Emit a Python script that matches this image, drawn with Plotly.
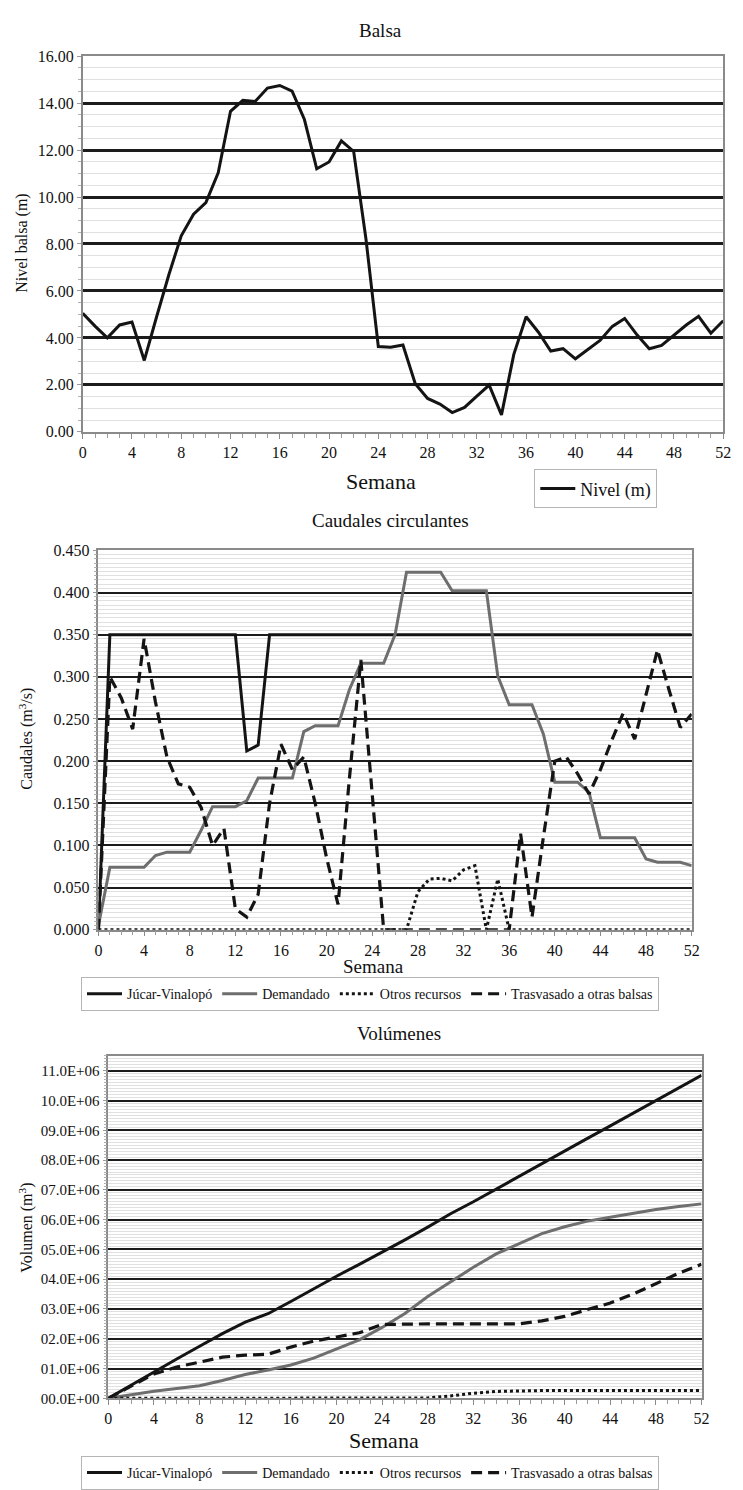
import plotly.graph_objects as go

# ---------------- data ----------------
weeks = list(range(53))

nivel = [5.05, 4.5, 4.0, 4.55, 4.68, 3.04, 4.9, 6.7, 8.35, 9.27,
         9.76, 11.03, 13.65, 14.12, 14.07, 14.64, 14.75, 14.51, 13.3, 11.2,
         11.49, 12.39, 11.94, 8.2, 3.63, 3.6, 3.7, 2.05, 1.42, 1.18,
         0.82, 1.04, 1.52, 1.99, 0.72, 3.3, 4.9, 4.24, 3.44, 3.54,
         3.11, 3.5, 3.89, 4.49, 4.83, 4.13, 3.54, 3.68, 4.1, 4.55,
         4.92, 4.2, 4.73]

q_jucar = [0.0, 0.35, 0.35, 0.35, 0.35, 0.35, 0.35, 0.35, 0.35, 0.35,
           0.35, 0.35, 0.35, 0.212, 0.219, 0.35, 0.35, 0.35, 0.35, 0.35,
           0.35, 0.35, 0.35, 0.35, 0.35, 0.35, 0.35, 0.35, 0.35, 0.35,
           0.35, 0.35, 0.35, 0.35, 0.35, 0.35, 0.35, 0.35, 0.35, 0.35,
           0.35, 0.35, 0.35, 0.35, 0.35, 0.35, 0.35, 0.35, 0.35, 0.35,
           0.35, 0.35, 0.35]
q_demandado = [0.005, 0.074, 0.074, 0.074, 0.074, 0.088, 0.092, 0.092, 0.092, 0.118,
               0.146, 0.146, 0.146, 0.153, 0.18, 0.18, 0.18, 0.18, 0.235, 0.242,
               0.242, 0.242, 0.285, 0.316, 0.316, 0.316, 0.35, 0.424, 0.424, 0.424,
               0.424, 0.402, 0.402, 0.402, 0.402, 0.301, 0.267, 0.267, 0.267, 0.232,
               0.175, 0.175, 0.175, 0.163, 0.109, 0.109, 0.109, 0.109, 0.084, 0.080,
               0.080, 0.080, 0.076]
q_otros = [0, 0, 0, 0, 0, 0, 0, 0, 0, 0,
           0, 0, 0, 0, 0, 0, 0, 0, 0, 0,
           0, 0, 0, 0, 0, 0, 0, 0, 0.045, 0.06,
           0.061, 0.058, 0.071, 0.076, 0.0, 0.06, 0.0, 0, 0, 0,
           0, 0, 0, 0, 0, 0, 0, 0, 0, 0,
           0, 0, 0]
q_trasvasado = [0.0, 0.30, 0.275, 0.238, 0.345, 0.27, 0.205, 0.173, 0.169, 0.145,
                0.10, 0.12, 0.025, 0.015, 0.042, 0.15, 0.22, 0.19, 0.205, 0.15,
                0.085, 0.03, 0.18, 0.32, 0.16, 0.0, 0.0, 0.0, 0.0, 0.0,
                0.0, 0.0, 0.0, 0.0, 0.0, 0.0, 0.0, 0.114, 0.015, 0.11,
                0.2, 0.205, 0.185, 0.161, 0.19, 0.225, 0.257, 0.226, 0.28, 0.332,
                0.285, 0.24, 0.256]

weeks_vol = [0, 2, 4, 6, 8, 10, 12, 14, 16, 18, 20, 22, 24, 26,
             28, 30, 32, 34, 36, 38, 40, 42, 44, 46, 48, 50, 52]
# volumes in millions of m3
v_jucar = [0, 0.44, 0.9, 1.32, 1.75, 2.17, 2.56, 2.84, 3.25, 3.68, 4.1, 4.5, 4.9, 5.32,
           5.75, 6.2, 6.6, 7.03, 7.45, 7.88, 8.3, 8.73, 9.15, 9.58, 10.0, 10.42, 10.85]
v_demandado = [0, 0.12, 0.24, 0.33, 0.42, 0.6, 0.8, 0.95, 1.12, 1.35, 1.65, 1.96, 2.38, 2.85,
               3.42, 3.9, 4.4, 4.85, 5.2, 5.53, 5.76, 5.95, 6.08, 6.21, 6.34, 6.44, 6.53]
v_otros = [0, 0, 0, 0, 0, 0, 0, 0, 0, 0, 0, 0, 0, 0,
           0.01, 0.08, 0.17, 0.23, 0.25, 0.26, 0.26, 0.26, 0.26, 0.26, 0.26, 0.26, 0.26]
v_trasvasado = [0, 0.4, 0.82, 1.05, 1.22, 1.38, 1.45, 1.48, 1.72, 1.92, 2.06, 2.2, 2.48, 2.5,
                2.5, 2.5, 2.5, 2.5, 2.5, 2.6, 2.75, 2.98, 3.2, 3.5, 3.85, 4.2, 4.5]

vol_tickvals = [0, 1, 2, 3, 4, 5, 6, 7, 8, 9, 10, 11]
vol_ticktext = ["00.0E+00", "01.0E+06", "02.0E+06", "03.0E+06", "04.0E+06", "05.0E+06",
                "06.0E+06", "07.0E+06", "08.0E+06", "09.0E+06", "10.0E+06", "11.0E+06"]

names = ["Júcar-Vinalopó", "Demandado", "Otros recursos", "Trasvasado a otras balsas"]

# ---------------- layout helpers ----------------
W, H = 743, 1490
FONT = "Liberation Serif"


def px_x(a, b):
    return [a / W, b / W]


def px_y(top, bottom):
    return [1 - bottom / H, 1 - top / H]


BLACK = "#141414"
GRAY = "#6e6e6e"
DASH = "11px,6px"
DOT = "3px,3px"

fig = go.Figure()

# Chart 1
fig.add_trace(go.Scatter(x=weeks, y=nivel, mode="lines", name="Nivel (m)",
                         line=dict(color=BLACK, width=3), xaxis="x", yaxis="y",
                         legend="legend"))

styles = [dict(color=BLACK, width=3),
          dict(color=GRAY, width=3),
          dict(color=BLACK, width=3, dash=DOT),
          dict(color=BLACK, width=3.2, dash=DASH)]

for nm, ys, st in zip(names, [q_jucar, q_demandado, q_otros, q_trasvasado], styles):
    fig.add_trace(go.Scatter(x=weeks, y=ys, mode="lines", name=nm, line=st,
                             xaxis="x2", yaxis="y2", legend="legend2"))

for nm, ys, st in zip(names, [v_jucar, v_demandado, v_otros, v_trasvasado], styles):
    fig.add_trace(go.Scatter(x=weeks_vol, y=ys, mode="lines", name=nm, line=st,
                             xaxis="x3", yaxis="y3", legend="legend3"))

tickfont = dict(family=FONT, size=16, color="#111")


def xaxis(domain, anchor):
    return dict(domain=domain, anchor=anchor, range=[0, 52], tick0=0, dtick=4,
                showgrid=False, zeroline=False, showline=True, mirror=True,
                linecolor="#8a8a8a", linewidth=1.5, ticks="outside", ticklen=5,
                tickcolor="#8a8a8a", tickfont=tickfont,
                minor=dict(dtick=1, ticks="outside", ticklen=4, tickcolor="#9a9a9a",
                           showgrid=False))


def yaxis(domain, anchor, rng, dtick, minor_dtick, gw, fmt=None, font=tickfont):
    d = dict(domain=domain, anchor=anchor, range=rng, dtick=dtick, tick0=0,
             showgrid=True, gridcolor="#1c1c1c", gridwidth=gw, zeroline=False,
             showline=True, mirror=True, linecolor="#8a8a8a", linewidth=1.5,
             ticks="outside", ticklen=4, tickcolor="#9a9a9a", tickfont=font,
             minor=dict(dtick=minor_dtick, showgrid=True, gridcolor="#e0e0e0",
                        gridwidth=1, ticks="outside", ticklen=3, tickcolor="#b0b0b0"))
    if fmt:
        d["tickformat"] = fmt
    return d


y3 = yaxis(px_y(1060.7, 1407.3), "x3", [0, 11.5], 1, 0.1, 2.4,
           font=dict(family=FONT, size=15, color="#111"))
y3.update(tickmode="array", tickvals=vol_tickvals, ticktext=vol_ticktext)
y3["minor"].update(tick0=0)

leg_common = dict(bordercolor="#b5b5b5", borderwidth=1, bgcolor="white", itemwidth=35)

fig.update_layout(
    width=W, height=H, margin=dict(l=0, r=0, t=0, b=0),
    paper_bgcolor="white", plot_bgcolor="white",
    font=dict(family=FONT, color="#111"),
    xaxis=xaxis(px_x(80, 731), "y"),
    yaxis=yaxis(px_y(48.7, 429), "x", [0, 16], 2, 0.5, 2.8, fmt=".2f"),
    xaxis2=xaxis(px_x(96, 699), "y2"),
    yaxis2=yaxis(px_y(549, 933), "x2", [0, 0.45], 0.05, 0.005, 2.4, fmt=".3f"),
    xaxis3=xaxis(px_x(106, 709), "y3"),
    yaxis3=y3,
    legend=dict(x=539 / W, y=1 - 467 / H, xanchor="left", yanchor="top",
                font=dict(family=FONT, size=18, color="#111"), entrywidth=98,
                **leg_common),
    legend2=dict(x=372 / W, y=1 - 981 / H, xanchor="center", yanchor="top",
                 orientation="h", font=dict(family=FONT, size=14, color="#111"),
                 **leg_common),
    legend3=dict(x=372 / W, y=1 - 1466 / H, xanchor="center", yanchor="top",
                 orientation="h", font=dict(family=FONT, size=14, color="#111"),
                 **leg_common),
    showlegend=True,
)

ann = []


def text(x, y, s, size, angle=0):
    ann.append(dict(x=x / W, y=1 - y / H, xref="paper", yref="paper", text=s,
                    showarrow=False, textangle=angle, xanchor="center", yanchor="middle",
                    font=dict(family=FONT, size=size, color="#111")))


text(383, 23, "Balsa", 19)
text(393, 519, "Caudales circulantes", 19)
text(401, 1038, "Volúmenes", 19)
text(383, 479, "Semana", 22)
text(376, 970, "Semana", 19)
text(386, 1450, "Semana", 22)
text(18, 238, "Nivel balsa (m)", 16, -90)
text(22, 740, "Caudales (m<sup>3</sup>/s)", 16, -90)
text(22, 1235, "Volumen (m<sup>3</sup>)", 16, -90)
fig.update_layout(annotations=ann)

fig.write_html("out.html")
